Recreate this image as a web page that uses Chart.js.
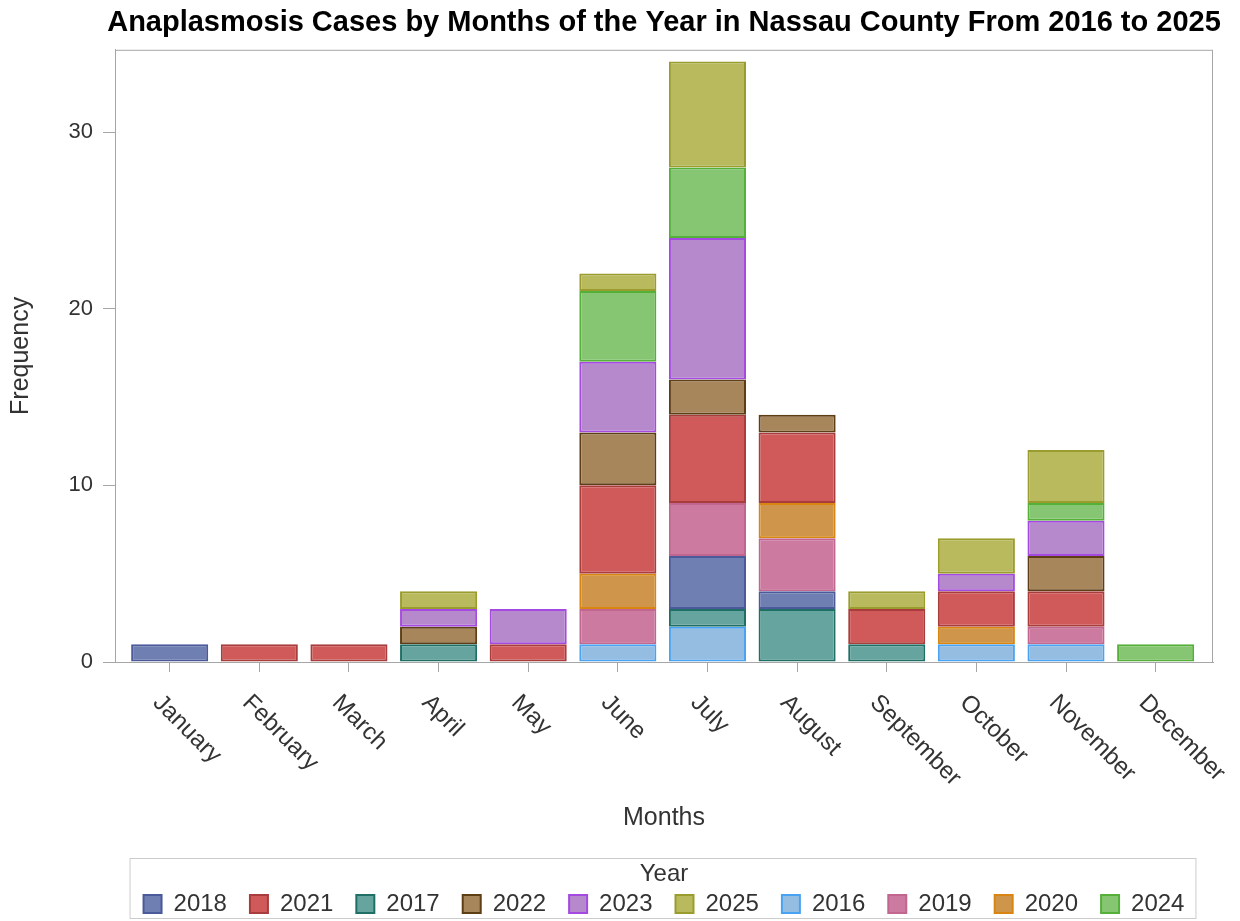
<!DOCTYPE html>
<html>
<head>
<meta charset="utf-8">
<script src="https://cdn.jsdelivr.net/npm/chart.js@4.4.1/dist/chart.umd.min.js"></script>
<style>
  html, body { margin: 0; padding: 0; background: #fff; }
</style>
</head>
<body>
<canvas id="chart" width="1240" height="921"></canvas>
<script>
// categories
const months = ["January", "February", "March", "April", "May", "June",
  "July", "August", "September", "October", "November", "December"];
const yTicks = [0, 10, 20, 30];

// cases per month for each year (Jan..Dec), stacked oldest at the bottom
const years = ["2016", "2017", "2018", "2019", "2020", "2021", "2022", "2023", "2024", "2025"];
const cases2016 = [0, 0, 0, 0, 0, 1, 2, 0, 0, 1, 1, 0];
const cases2017 = [0, 0, 0, 1, 0, 0, 1, 3, 1, 0, 0, 0];
const cases2018 = [1, 0, 0, 0, 0, 0, 3, 1, 0, 0, 0, 0];
const cases2019 = [0, 0, 0, 0, 0, 2, 3, 3, 0, 0, 1, 0];
const cases2020 = [0, 0, 0, 0, 0, 2, 0, 2, 0, 1, 0, 0];
const cases2021 = [0, 1, 1, 0, 1, 5, 5, 4, 2, 2, 2, 0];
const cases2022 = [0, 0, 0, 1, 0, 3, 2, 1, 0, 0, 2, 0];
const cases2023 = [0, 0, 0, 1, 2, 4, 8, 0, 0, 1, 2, 0];
const cases2024 = [0, 0, 0, 0, 0, 4, 4, 0, 0, 0, 1, 1];
const cases2025 = [0, 0, 0, 1, 0, 1, 6, 0, 1, 2, 3, 0];

// legend shows years in this order
const legendOrder = ["2018", "2021", "2017", "2022", "2023", "2025", "2016", "2019", "2020", "2024"];

const fills = ["#95bde2", "#66a59f", "#6f7fb2", "#cd7aa0", "#cf964b",
  "#d05a5a", "#a8865b", "#b589cc", "#86c673", "#b8ba5d"];
const borders = ["#4aa3f2", "#1f6f66", "#4a5a9a", "#c0668f", "#d98512",
  "#a93c3c", "#5e3e14", "#a54ae0", "#55b03a", "#9a9c2e"];

const allCases = [cases2016, cases2017, cases2018, cases2019, cases2020,
  cases2021, cases2022, cases2023, cases2024, cases2025];

const FONT = '"Liberation Sans", Arial, sans-serif';

const datasets = years.map((y, i) => ({
  label: y,
  data: allCases[i].map((v, j) => ({ x: j, y: v === 0 ? null : v })),
  backgroundColor: fills[i],
  borderColor: borders[i],
  borderWidth: 2,
  borderSkipped: false,
  barPercentage: 0.86,
  categoryPercentage: 1.0,
}));

const extras = {
  id: "extras",
  // centre title and legend over the plot area, like the original
  afterLayout(chart) {
    const a = chart.chartArea;
    const mid = (a.left + a.right) / 2;
    const t = chart.titleBlock;
    if (t) {
      const dx = mid - (t.left + t.right) / 2;
      t.left += dx; t.right += dx;
    }
    const lg = chart.legend;
    if (lg) {
      const dx = mid - (lg.left + lg.right) / 2;
      lg.left += dx; lg.right += dx;
      lg.top += 5; lg.bottom += 5;
    }
  },
  afterDraw(chart) {
    const { ctx, chartArea: a } = chart;
    ctx.save();
    ctx.strokeStyle = "#a6a6a6";
    ctx.lineWidth = 1;
    ctx.strokeRect(a.left + 0.5, a.top + 0.5, a.right - a.left - 1, a.bottom - a.top);

    // slanted month labels
    const xs = chart.scales.x;
    ctx.font = "24px " + FONT;
    ctx.fillStyle = "#333";
    ctx.textAlign = "left";
    ctx.textBaseline = "middle";
    months.forEach((m, i) => {
      const x = xs.getPixelForValue(i);
      ctx.save();
      ctx.translate(x - 13, xs.top + 37);
      ctx.rotate(Math.PI / 4);
      ctx.fillText(m, 0, 0);
      ctx.restore();
    });

    // box around legend
    const lg = chart.legend;
    const boxes = lg.legendHitBoxes;
    if (boxes && boxes.length) {
      const l = Math.min(...boxes.map(b => b.left)) - 14;
      const r = Math.max(...boxes.map(b => b.left + b.width)) + 11;
      ctx.strokeStyle = "#cccccc";
      ctx.strokeRect(l + 0.5, lg.top + 0.5, r - l, lg.bottom - lg.top - 8);
    }
    ctx.restore();
  }
};

new Chart(document.getElementById("chart"), {
  type: "bar",
  data: { datasets },
  options: {
    responsive: false,
    animation: false,
    layout: { padding: { left: 0, right: 27, top: 0, bottom: 0 } },
    plugins: {
      title: {
        display: true,
        text: "Anaplasmosis Cases by Months of the Year in Nassau County From 2016 to 2025",
        color: "#000",
        font: { family: FONT, size: 29, weight: "bold" },
        padding: { top: 6, bottom: 9 },
      },
      legend: {
        position: "bottom",
        title: {
          display: true,
          text: "Year",
          color: "#333",
          font: { family: FONT, size: 24 },
          padding: { top: 4, bottom: -21.8 },
        },
        labels: {
          color: "#333",
          font: { family: FONT, size: 24 },
          boxWidth: 18,
          boxHeight: 18,
          padding: 23,
          sort: (a, b) => legendOrder.indexOf(a.text) - legendOrder.indexOf(b.text),
        },
      },
      tooltip: { enabled: false },
    },
    scales: {
      x: {
        type: "linear",
        offset: false,
        stacked: true,
        min: -0.61,
        max: 11.64,
        afterBuildTicks: (scale) => { scale.ticks = months.map((m, i) => ({ value: i })); },
        grid: { offset: false, drawOnChartArea: false, drawTicks: true, tickLength: 10, color: "#a6a6a6" },
        border: { display: true, color: "#a6a6a6" },
        ticks: { display: false },
        title: {
          display: true,
          text: "Months",
          color: "#333",
          font: { family: FONT, size: 25 },
          padding: { top: 0, bottom: 20 },
        },
        afterFit: (scale) => { scale.height = 191; },
      },
      y: {
        stacked: true,
        min: 0,
        max: 34.66,
        afterBuildTicks: (scale) => { scale.ticks = yTicks.map(v => ({ value: v })); },
        grid: { drawOnChartArea: false, drawTicks: true, tickLength: 12, color: "#a6a6a6" },
        border: { display: true, color: "#a6a6a6" },
        ticks: { color: "#333", font: { family: FONT, size: 22 }, padding: 10 },
        title: {
          display: true,
          text: "Frequency",
          color: "#333",
          font: { family: FONT, size: 25 },
          padding: { top: 6, bottom: 0 },
        },
        afterFit: (scale) => { scale.width = 115; },
      },
    },
  },
  plugins: [extras],
});
</script>
</body>
</html>
